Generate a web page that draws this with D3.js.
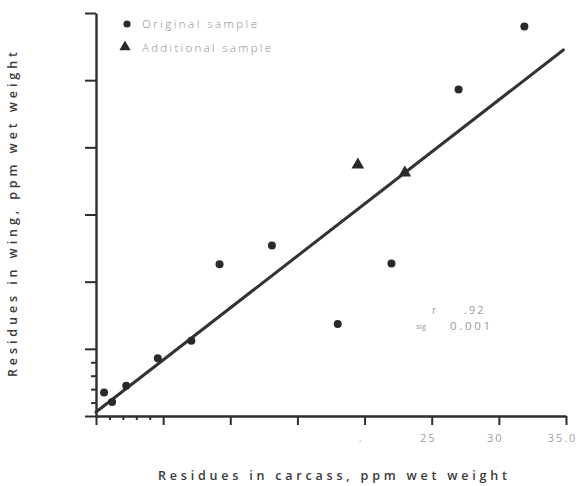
<!DOCTYPE html>
<html>
<head>
<meta charset="utf-8">
<script src="https://cdn.jsdelivr.net/npm/d3@7"></script>
<style>
  html, body { margin: 0; padding: 0; background: #fff; }
  svg { display: block; }
</style>
</head>
<body>
<svg id="chart" width="583" height="486"></svg>
<script>
// ---- data ----
const originalX = [0.6, 1.2, 2.25, 4.6, 7.1, 9.2, 13.1, 18.0, 22.0, 27.0, 31.9];
const originalY = [1.75, 1.05, 2.25, 4.3, 5.6, 11.3, 12.7, 6.85, 11.35, 24.3, 29.0];
const additionalX = [19.5, 23.0];
const additionalY = [18.7, 18.1];
const fitX = [0, 34.8];
const fitY = [0.3, 27.25];
const xMajorTicks = [0, 5, 10, 15, 20, 25, 30, 35];
const xTickLabels = ["", "", "", "", ".", "25", "30", "35.0"];
const xMinorTicks = [1, 2, 3, 4];
const yMajorTicks = [0, 5, 10, 15, 20, 25, 30];
const yMinorTicks = [1, 2, 3, 4];
const legendLabels = ["Original sample", "Additional sample"];
const statLabels = ["r", "sig"];
const statValues = [".92", "0.001"];
const xTitle = "Residues in carcass, ppm wet weight";
const yTitle = "Residues in wing, ppm wet weight";

// ---- layout ----
const svg = d3.select("#chart");
const ink = "#2e2e2e";
const x = d3.scaleLinear().domain([0, 35]).range([96, 566]);
const y = d3.scaleLinear().domain([0, 30]).range([416, 13]);
const font = "'Open Sans', 'DejaVu Sans', sans-serif";

// x axis
const gx = svg.append("g").attr("transform", `translate(0,${y(0)})`)
  .call(d3.axisBottom(x).tickValues(xMajorTicks).tickSize(9).tickSizeOuter(0)
    .tickFormat((d, i) => xTickLabels[i]));
svg.append("g").attr("transform", `translate(0,${y(0)})`)
  .call(d3.axisBottom(x).tickValues(xMinorTicks).tickSize(4).tickSizeOuter(0).tickFormat(""))
  .select(".domain").remove();

// y axis
const gy = svg.append("g").attr("transform", `translate(${x(0)},0)`)
  .call(d3.axisLeft(y).tickValues(yMajorTicks).tickSize(11).tickSizeOuter(0).tickFormat(""));
svg.append("g").attr("transform", `translate(${x(0)},0)`)
  .call(d3.axisLeft(y).tickValues(yMinorTicks).tickSize(5).tickSizeOuter(0).tickFormat(""))
  .select(".domain").remove();

svg.selectAll(".domain").attr("stroke", ink).attr("stroke-width", 2.4);
svg.selectAll(".tick line").attr("stroke", ink).attr("stroke-width", 2);
gx.selectAll(".tick text")
  .attr("font-family", font).attr("font-size", 11).attr("fill", "#a0a0a0")
  .attr("letter-spacing", 2).attr("dy", "1.25em").attr("dx", -4);

// regression line
svg.append("line")
  .attr("x1", x(fitX[0])).attr("y1", y(fitY[0]))
  .attr("x2", x(fitX[1])).attr("y2", y(fitY[1]))
  .attr("stroke", "#333").attr("stroke-width", 3).attr("stroke-linecap", "round");

// points
const circ = originalX.map((v, i) => [v, originalY[i]]);
svg.append("g").selectAll("circle").data(circ).join("circle")
  .attr("cx", d => x(d[0])).attr("cy", d => y(d[1])).attr("r", 4)
  .attr("fill", "#2a2a2a");
const tri = additionalX.map((v, i) => [v, additionalY[i]]);
const triSym = d3.symbol().type(d3.symbolTriangle).size(70);
svg.append("g").selectAll("path").data(tri).join("path")
  .attr("transform", d => `translate(${x(d[0])},${y(d[1])})`)
  .attr("d", triSym).attr("fill", "#2a2a2a");

// legend
const leg = svg.append("g");
leg.append("circle").attr("cx", 127).attr("cy", 24).attr("r", 3.6).attr("fill", "#2a2a2a");
leg.append("path").attr("transform", "translate(125,47)")
  .attr("d", d3.symbol().type(d3.symbolTriangle).size(55)).attr("fill", "#2a2a2a");
leg.selectAll("text").data(legendLabels).join("text")
  .attr("x", 142).attr("y", (d, i) => 28 + i * 24)
  .attr("font-family", font).attr("font-weight", 300).attr("font-size", 11.5).attr("fill", "#8a8a8a")
  .attr("textLength", (d, i) => i === 0 ? 115 : 129).attr("lengthAdjust", "spacing")
  .text(d => d);

// stats annotation
const st = svg.append("g").attr("font-family", font).attr("fill", "#9a9a9a");
st.append("text").attr("x", 432).attr("y", 314).attr("font-size", 10).text(statLabels[0]);
st.append("text").attr("x", 464).attr("y", 314).attr("font-size", 11).attr("letter-spacing", 2).text(statValues[0]);
st.append("text").attr("x", 416).attr("y", 329).attr("font-size", 8).text(statLabels[1]);
st.append("text").attr("x", 450).attr("y", 330).attr("font-size", 11.5)
  .attr("textLength", 40).attr("lengthAdjust", "spacing").text(statValues[1]);

// axis titles
svg.append("text").attr("x", 158).attr("y", 480)
  .attr("font-family", font).attr("font-weight", 600).attr("font-size", 12.5).attr("fill", "#3a3a3a")
  .attr("textLength", 349).attr("lengthAdjust", "spacing").text(xTitle);
svg.append("text").attr("transform", "translate(17,377) rotate(-90)")
  .attr("font-family", font).attr("font-weight", 600).attr("font-size", 12.5).attr("fill", "#3a3a3a")
  .attr("textLength", 325).attr("lengthAdjust", "spacing").text(yTitle);
</script>
</body>
</html>
